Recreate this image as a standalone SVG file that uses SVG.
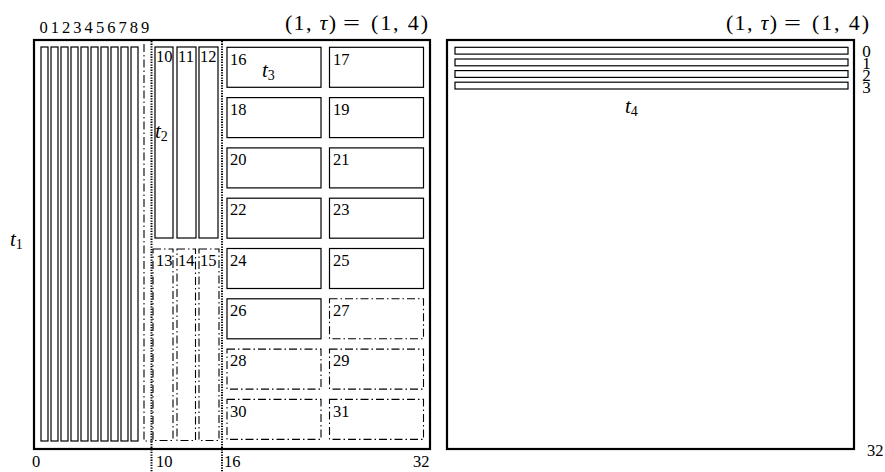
<svg xmlns="http://www.w3.org/2000/svg" width="885" height="472" viewBox="0 0 885 472">
<style>
text{font-family:"Liberation Serif","DejaVu Serif",serif;fill:#000}
.n{font-size:16.5px}
.m{font-size:21px;font-style:italic}
.s{font-size:14px;font-style:normal}
.ti{font-size:22px}
.outer{fill:#fff;stroke:#000;stroke-width:2.2}
.bar{fill:none;stroke:#000;stroke-width:1.2}
.dd{fill:none;stroke:#000;stroke-width:1.1;stroke-dasharray:8 3 1.5 3}
.dot{fill:none;stroke:#000;stroke-width:2;stroke-dasharray:1.3 1.3}
</style>
<rect x="0" y="0" width="885" height="472" fill="#fff"/>

<g id="left-panel">
<rect class="outer" x="34" y="40" width="396" height="409"/>
<text class="ti" y="30"><tspan x="285" textLength="51" lengthAdjust="spacing">(1, <tspan font-style="italic">τ</tspan>)</tspan><tspan x="343" textLength="17" lengthAdjust="spacingAndGlyphs">=</tspan><tspan x="371" textLength="57" lengthAdjust="spacing">(1, 4)</tspan></text>
<text class="n" x="43.5 54.8 66.1 77.4 88.7 100 111.3 122.6 133.9 145.2" y="33" text-anchor="middle">0123456789</text>
</g>

<g id="t1-bars">
<rect class="bar" x="41" y="47" width="7" height="394"/>
<rect class="bar" x="51" y="47" width="7" height="394"/>
<rect class="bar" x="61" y="47" width="7" height="394"/>
<rect class="bar" x="71" y="47" width="7" height="394"/>
<rect class="bar" x="81" y="47" width="7" height="394"/>
<rect class="bar" x="91" y="47" width="7" height="394"/>
<rect class="bar" x="101" y="47" width="7" height="394"/>
<rect class="bar" x="111" y="47" width="7" height="394"/>
<rect class="bar" x="121" y="47" width="7" height="394"/>
<rect class="bar" x="131" y="47" width="7" height="394"/>
<text class="m" x="10" y="246">t<tspan class="s" dy="3">1</tspan></text>
</g>

<g id="t2-region">
<path class="dd" d="M144,44 V441 H153"/>
<rect class="bar" x="155" y="47" width="18" height="191"/>
<rect class="bar" x="177" y="47" width="19" height="191"/>
<rect class="bar" x="199" y="47" width="19" height="191"/>
<text class="n" x="156" y="61.5">10</text>
<text class="n" x="178" y="61.5">11</text>
<text class="n" x="200" y="61.5">12</text>
<rect class="dd" x="153" y="249" width="20" height="191.5"/>
<rect class="dd" x="177" y="249" width="18.5" height="191.5"/>
<rect class="dd" x="199" y="249" width="20" height="191.5"/>
<text class="n" x="156" y="266">13</text>
<text class="n" x="178" y="266">14</text>
<text class="n" x="200" y="266">15</text>
<text class="m" x="155" y="138">t<tspan class="s" dy="3">2</tspan></text>
</g>

<g id="t3-region">
<rect class="bar" x="227" y="47.3" width="94" height="40"/>
<rect class="bar" x="329.5" y="47.3" width="94" height="40"/>
<rect class="bar" x="227" y="97.6" width="94" height="40"/>
<rect class="bar" x="329.5" y="97.6" width="94" height="40"/>
<rect class="bar" x="227" y="147.9" width="94" height="40"/>
<rect class="bar" x="329.5" y="147.9" width="94" height="40"/>
<rect class="bar" x="227" y="198.2" width="94" height="40"/>
<rect class="bar" x="329.5" y="198.2" width="94" height="40"/>
<rect class="bar" x="227" y="248.5" width="94" height="40"/>
<rect class="bar" x="329.5" y="248.5" width="94" height="40"/>
<rect class="bar" x="227" y="298.8" width="94" height="40"/>
<rect class="dd" x="329.5" y="298.8" width="94" height="40"/>
<rect class="dd" x="227" y="349.1" width="94" height="40"/>
<rect class="dd" x="329.5" y="349.1" width="94" height="40"/>
<rect class="dd" x="227" y="399.4" width="94" height="40"/>
<rect class="dd" x="329.5" y="399.4" width="94" height="40"/>
<text class="n" x="230" y="64.5">16</text>
<text class="n" x="333" y="64.5">17</text>
<text class="n" x="230" y="114.8">18</text>
<text class="n" x="333" y="114.8">19</text>
<text class="n" x="230" y="165.1">20</text>
<text class="n" x="333" y="165.1">21</text>
<text class="n" x="230" y="215.4">22</text>
<text class="n" x="333" y="215.4">23</text>
<text class="n" x="230" y="265.7">24</text>
<text class="n" x="333" y="265.7">25</text>
<text class="n" x="230" y="316">26</text>
<text class="n" x="333" y="316">27</text>
<text class="n" x="230" y="366.3">28</text>
<text class="n" x="333" y="366.3">29</text>
<text class="n" x="230" y="416.6">30</text>
<text class="n" x="333" y="416.6">31</text>
<text class="m" x="262" y="77">t<tspan class="s" dy="3">3</tspan></text>
</g>

<g id="connectors">
<line class="dot" x1="151.5" y1="41" x2="151.5" y2="472"/>
<line class="dot" x1="222" y1="41" x2="222" y2="472"/>
</g>

<g id="axis-labels">
<text class="n" x="32" y="467">0</text>
<text class="n" x="156" y="467">10</text>
<text class="n" x="224" y="467">16</text>
<text class="n" x="413" y="467">32</text>
</g>

<g id="right-panel">
<rect class="outer" x="447" y="40" width="407" height="409"/>
<text class="ti" y="30"><tspan x="726" textLength="51" lengthAdjust="spacing">(1, <tspan font-style="italic">τ</tspan>)</tspan><tspan x="784" textLength="17" lengthAdjust="spacingAndGlyphs">=</tspan><tspan x="812" textLength="57" lengthAdjust="spacing">(1, 4)</tspan></text>
<rect class="bar" x="455" y="47.3" width="393" height="6.8"/>
<rect class="bar" x="455" y="59" width="393" height="6.8"/>
<rect class="bar" x="455" y="70.6" width="393" height="6.8"/>
<rect class="bar" x="455" y="82.2" width="393" height="6.8"/>
<text class="n" x="866.5" y="56.5" text-anchor="middle" style="font-size:17px">0</text>
<text class="n" x="866.5" y="68.5" text-anchor="middle" style="font-size:17px">1</text>
<text class="n" x="866.5" y="80.5" text-anchor="middle" style="font-size:17px">2</text>
<text class="n" x="866.5" y="92.5" text-anchor="middle" style="font-size:17px">3</text>
<text class="m" x="625" y="113">t<tspan class="s" dy="3">4</tspan></text>
<text class="n" x="867" y="456">32</text>
</g>
</svg>
